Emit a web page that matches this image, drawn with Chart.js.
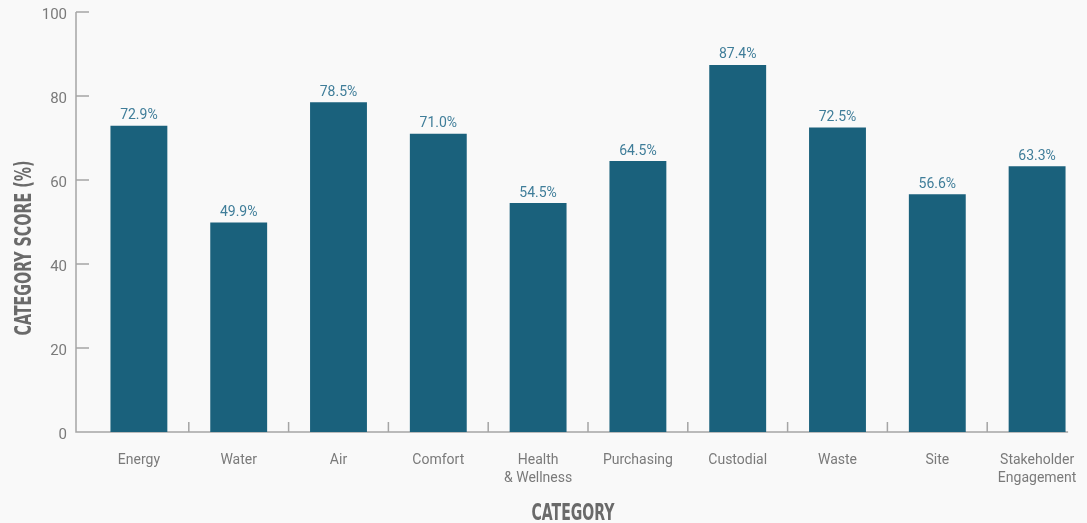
<!DOCTYPE html>
<html>
<head>
<meta charset="utf-8">
<script src="https://cdn.jsdelivr.net/npm/chart.js@4.4.1/dist/chart.umd.min.js"></script>
<style>
    html, body { margin: 0; padding: 0; background: #f9f9f9; overflow: hidden; }
    #wrap { position: relative; width: 1087px; height: 523px; }
</style>
</head>
<body>
<div id="wrap"><canvas id="scoreChart"></canvas></div>
<script>
// Category scores
const categories = ['Energy', 'Water', 'Air', 'Comfort', ['Health', '& Wellness'], 'Purchasing',
    'Custodial', 'Waste', 'Site', ['Stakeholder', 'Engagement']];
const scores = [72.9, 49.9, 78.5, 71.0, 54.5, 64.5, 87.4, 72.5, 56.6, 63.3];
const yTicks = [0, 20, 40, 60, 80, 100];

const BAR_COLOR = '#1a617c';
const LABEL_COLOR = '#3f7d99';
const AXIS_COLOR = '#a5a5a5';
const TEXT_COLOR = '#7a7a7a';
const TITLE_FONT = 'bold 23px "DejaVu Sans Condensed", "Liberation Sans Narrow", sans-serif';

// Axis lines, inward ticks and category separators
const axisLines = {
    id: 'axisLines',
    beforeDatasetsDraw(chart) {
        const { ctx, chartArea, scales: { x, y } } = chart;
        const axisX = chartArea.left - 13;
        const zeroY = y.getPixelForValue(0);
        const n = categories.length;

        ctx.save();
        ctx.strokeStyle = AXIS_COLOR;
        ctx.lineWidth = 1.5;
        ctx.beginPath();
        ctx.moveTo(axisX, y.getPixelForValue(yTicks[yTicks.length - 1]));
        ctx.lineTo(axisX, zeroY);
        ctx.lineTo(x.getPixelForValue(n - 1) + 31, zeroY);

        yTicks.forEach(v => {
            const py = y.getPixelForValue(v);
            ctx.moveTo(axisX, py);
            ctx.lineTo(chartArea.left, py);
        });

        for (let i = 1; i < n; i++) {
            const px = (x.getPixelForValue(i - 1) + x.getPixelForValue(i)) / 2;
            ctx.moveTo(px, zeroY);
            ctx.lineTo(px, zeroY - 10);
        }
        ctx.stroke();
        ctx.restore();
    }
};

// Value labels above bars and axis titles
const barLabels = {
    id: 'barLabels',
    afterDatasetsDraw(chart) {
        const { ctx } = chart;
        const meta = chart.getDatasetMeta(0);

        ctx.save();
        ctx.fillStyle = LABEL_COLOR;
        ctx.font = '14px Roboto, sans-serif';
        ctx.textAlign = 'center';
        ctx.textBaseline = 'bottom';
        meta.data.forEach((bar, i) => {
            ctx.fillText(scores[i].toFixed(1) + '%', bar.x, bar.y - 3);
        });

        // condensed bold titles, squeezed with maxWidth
        ctx.fillStyle = '#6a6a6a';
        ctx.font = TITLE_FONT;
        ctx.textBaseline = 'middle';
        ctx.fillText('CATEGORY', 573, 514, 83);

        ctx.translate(25, 248);
        ctx.rotate(-Math.PI / 2);
        ctx.fillText('CATEGORY SCORE (%)', 0, 0, 175);
        ctx.restore();
    }
};

new Chart(document.getElementById('scoreChart'), {
    type: 'bar',
    data: {
        labels: categories,
        datasets: [{
            data: scores,
            backgroundColor: BAR_COLOR,
            barPercentage: 0.57,
            categoryPercentage: 1
        }]
    },
    options: {
        responsive: true,
        maintainAspectRatio: false,
        animation: false,
        layout: { padding: { top: 12, right: 0, left: 0, bottom: 0 } },
        plugins: {
            legend: { display: false },
            tooltip: { enabled: false }
        },
        scales: {
            x: {
                grid: { display: false, drawTicks: false },
                border: { display: false },
                ticks: {
                    color: TEXT_COLOR,
                    font: { family: 'Roboto', size: 14, lineHeight: 1.3 },
                    padding: 19,
                    maxRotation: 0,
                    autoSkip: false
                },
                afterFit(scale) {
                    scale.height = 91;
                    scale.paddingLeft = 0;
                    scale.paddingRight = 0;
                }
            },
            y: {
                min: 0,
                max: 100,
                grid: { display: false, drawTicks: false },
                border: { display: false },
                ticks: {
                    stepSize: 20,
                    color: TEXT_COLOR,
                    font: { family: 'Roboto', size: 15 },
                    padding: 22,
                    labelOffset: 3
                },
                afterFit(scale) {
                    scale.width = 89;
                    scale.paddingTop = 0;
                    scale.paddingBottom = 0;
                }
            }
        }
    },
    plugins: [axisLines, barLabels]
});
</script>
</body>
</html>
